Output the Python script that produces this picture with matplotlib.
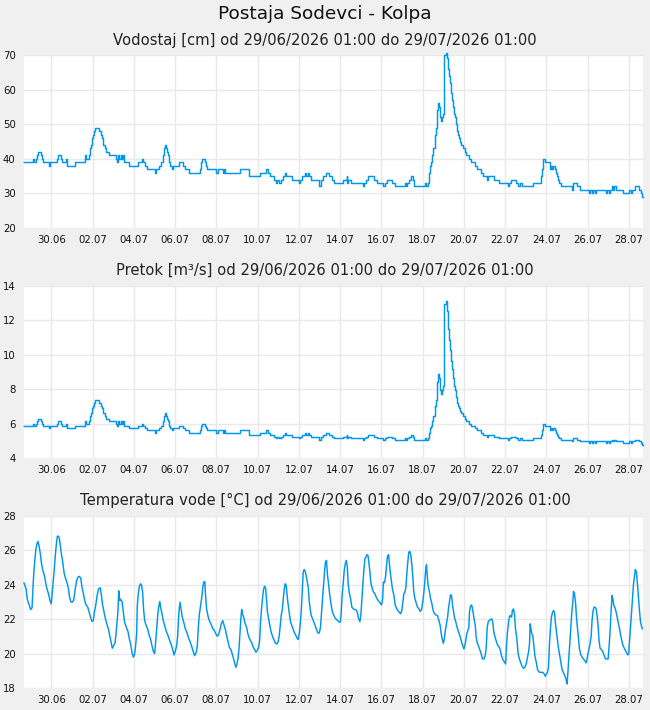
import matplotlib
matplotlib.use("Agg")
import matplotlib.pyplot as plt

# ---------------- data ----------------
station = "Postaja Sodevci - Kolpa"
period = "od 29/06/2026 01:00 do 29/07/2026 01:00"
titles = ["Vodostaj [cm]", "Pretok [m³/s]", "Temperatura vode [°C]"]

tick_pos = [1.32 + 2 * k for k in range(15)]
tick_labels = ["30.06", "02.07", "04.07", "06.07", "08.07", "10.07", "12.07", "14.07",
               "16.07", "18.07", "20.07", "22.07", "24.07", "26.07", "28.07"]

# water level / discharge (days from start of period)
lvl_day = [
    0.00, 0.42, 0.47, 0.58, 0.63, 0.68, 0.81, 0.87, 0.94, 1.20,
    1.26, 1.58, 1.65, 1.78, 1.84, 2.03, 2.06, 2.08, 2.46, 2.94,
    3.00, 3.13, 3.21, 3.26, 3.31, 3.36, 3.41, 3.46, 3.65, 3.72,
    3.78, 3.84, 3.91, 3.97, 4.14, 4.48, 4.52, 4.56, 4.62, 4.68,
    4.75, 4.80, 4.85, 5.07, 5.53, 5.72, 5.78, 5.85, 5.96, 6.37,
    6.41, 6.53, 6.66, 6.72, 6.79, 6.83, 6.88, 6.93, 6.98, 7.03,
    7.08, 7.17, 7.22, 7.50, 7.69, 7.82, 8.01, 8.52, 8.58, 8.64,
    8.76, 8.82, 8.89, 9.32, 9.39, 9.63, 9.68, 9.73, 10.48, 10.92,
    11.45, 11.74, 11.82, 11.94, 12.10, 12.21, 12.28, 12.34, 12.44, 12.54,
    12.63, 12.71, 12.99, 13.31, 13.38, 13.47, 13.60, 13.67, 13.76, 13.83,
    13.93, 14.31, 14.38, 14.47, 14.64, 14.77, 14.91, 15.02, 15.44, 15.64,
    15.67, 15.72, 15.83, 16.45, 16.49, 16.56, 16.65, 16.96, 17.09, 17.41,
    17.48, 17.58, 17.82, 17.98, 18.46, 18.51, 18.58, 18.67, 18.77, 18.84,
    18.90, 19.45, 19.50, 19.56, 19.61, 19.66, 19.72, 19.77, 19.84, 19.90,
    19.93, 19.97, 20.01, 20.06, 20.11, 20.14, 20.18, 20.22, 20.27, 20.30,
    20.34, 20.37, 20.43, 20.48, 20.53, 20.58, 20.63, 20.68, 20.74, 20.79,
    20.84, 20.89, 20.93, 20.98, 21.03, 21.08, 21.13, 21.18, 21.29, 21.35,
    21.42, 21.58, 21.68, 21.87, 21.97, 22.13, 22.26, 22.45, 22.48, 22.79,
    23.03, 23.45, 23.52, 23.58, 23.84, 23.95, 24.04, 24.12, 24.68, 25.07,
    25.12, 25.17, 25.26, 25.47, 25.54, 25.59, 25.65, 25.72, 25.76, 25.81,
    25.88, 25.94, 26.04, 26.55, 26.60, 26.81, 26.94, 27.39, 27.44, 27.52,
    27.57, 27.65, 27.70, 28.20, 28.25, 28.35, 28.40, 28.48, 28.54, 28.61,
    28.67, 29.03, 29.33, 29.40, 29.49, 29.61, 29.83, 29.91, 29.96, 30.00,
]
lvl_cm = [
    39, 40, 39, 40, 41, 42, 41, 40, 39, 38,
    39, 40, 41, 40, 39, 40, 39, 38, 39, 41,
    40, 41, 43, 44, 46, 47, 48, 49, 48, 47,
    46, 44, 43, 42, 41, 40, 39, 41, 40, 41,
    40, 41, 39, 38, 39, 40, 39, 38, 37, 36,
    37, 38, 39, 41, 43, 44, 43, 42, 41, 39,
    38, 37, 38, 39, 38, 37, 36, 37, 39, 40,
    39, 38, 37, 36, 37, 36, 37, 36, 37, 35,
    36, 37, 36, 35, 34, 33, 34, 33, 34, 35,
    36, 35, 34, 33, 34, 35, 36, 35, 36, 35,
    34, 32, 34, 35, 36, 35, 34, 33, 34, 35,
    33, 34, 33, 32, 33, 34, 35, 34, 33, 32,
    33, 34, 33, 32, 33, 32, 33, 34, 35, 34,
    32, 33, 32, 33, 36, 38, 39, 41, 43, 45,
    47, 49, 54, 56, 55, 54, 52, 51, 52, 53,
    56, 70, 70.5, 69, 66, 64, 62, 59, 57, 55,
    53, 52, 50, 48, 47, 46, 45, 44, 43, 42,
    41, 40, 39, 38, 37, 36, 35, 34, 35, 34,
    33, 32, 33, 34, 33, 32, 33, 32, 33, 35,
    37, 40, 39, 37, 38, 37, 38, 37, 36, 35,
    34, 33, 32, 31, 33, 32, 31, 30, 31, 30,
    31, 30, 31, 30, 31, 30, 31, 32, 31, 32,
    31, 30, 31, 30, 31, 32, 31, 30, 29, 29,
]
flow_m3s = [
    5.85, 6.00, 5.85, 6.00, 6.14, 6.29, 6.14, 6.00, 5.85, 5.72,
    5.85, 6.00, 6.14, 6.00, 5.85, 6.00, 5.85, 5.72, 5.85, 6.14,
    6.00, 6.14, 6.45, 6.60, 6.90, 7.05, 7.20, 7.40, 7.20, 7.05,
    6.90, 6.60, 6.45, 6.29, 6.14, 6.00, 5.85, 6.14, 6.00, 6.14,
    6.00, 6.14, 5.85, 5.72, 5.85, 6.00, 5.85, 5.72, 5.60, 5.47,
    5.60, 5.72, 5.85, 6.14, 6.45, 6.60, 6.45, 6.29, 6.14, 5.85,
    5.72, 5.60, 5.72, 5.85, 5.72, 5.60, 5.47, 5.60, 5.85, 6.00,
    5.85, 5.72, 5.60, 5.47, 5.60, 5.47, 5.60, 5.47, 5.60, 5.35,
    5.47, 5.60, 5.47, 5.35, 5.25, 5.15, 5.25, 5.15, 5.25, 5.35,
    5.47, 5.35, 5.25, 5.15, 5.25, 5.35, 5.47, 5.35, 5.47, 5.35,
    5.25, 5.07, 5.25, 5.35, 5.47, 5.35, 5.25, 5.15, 5.25, 5.35,
    5.15, 5.25, 5.15, 5.07, 5.15, 5.25, 5.35, 5.25, 5.15, 5.07,
    5.15, 5.25, 5.15, 5.07, 5.15, 5.07, 5.15, 5.25, 5.35, 5.25,
    5.07, 5.15, 5.07, 5.15, 5.47, 5.72, 5.85, 6.14, 6.45, 6.75,
    7.05, 7.40, 8.40, 8.90, 8.65, 8.40, 7.95, 7.75, 7.95, 8.20,
    8.90, 12.95, 13.15, 12.55, 11.50, 10.85, 10.30, 9.65, 9.15, 8.65,
    8.20, 7.95, 7.55, 7.20, 7.05, 6.90, 6.75, 6.60, 6.45, 6.29,
    6.14, 6.00, 5.85, 5.72, 5.60, 5.47, 5.35, 5.25, 5.35, 5.25,
    5.15, 5.07, 5.15, 5.25, 5.15, 5.07, 5.15, 5.07, 5.15, 5.35,
    5.60, 6.00, 5.85, 5.60, 5.72, 5.60, 5.72, 5.60, 5.47, 5.35,
    5.25, 5.15, 5.07, 4.98, 5.15, 5.07, 4.98, 4.90, 4.98, 4.90,
    4.98, 4.90, 4.98, 4.90, 4.98, 4.90, 4.98, 5.07, 4.98, 5.07,
    4.98, 4.90, 4.98, 4.90, 4.98, 5.07, 4.98, 4.90, 4.78, 4.78,
]

# water temperature
temp_day = [
    0.00, 0.10, 0.16, 0.26, 0.32, 0.39, 0.44, 0.48, 0.53, 0.58, 0.63, 0.68, 0.74, 0.79, 0.84, 0.90,
    0.99, 1.08, 1.20, 1.26, 1.32, 1.37, 1.42, 1.47, 1.52, 1.57, 1.62, 1.66, 1.71, 1.76, 1.81, 1.86,
    1.91, 1.95, 2.02, 2.10, 2.16, 2.21, 2.28, 2.34, 2.41, 2.49, 2.55, 2.62, 2.68, 2.75, 2.81, 2.88,
    2.94, 3.00, 3.09, 3.15, 3.21, 3.30, 3.36, 3.41, 3.47, 3.55, 3.62, 3.70, 3.75, 3.81, 3.88, 3.94,
    4.01, 4.09, 4.15, 4.22, 4.28, 4.35, 4.41, 4.46, 4.51, 4.56, 4.59, 4.64, 4.68, 4.75, 4.81, 4.88,
    4.96, 5.04, 5.10, 5.17, 5.23, 5.30, 5.36, 5.41, 5.46, 5.49, 5.54, 5.59, 5.65, 5.70, 5.75, 5.80,
    5.85, 5.91, 5.99, 6.07, 6.14, 6.20, 6.27, 6.33, 6.38, 6.43, 6.48, 6.53, 6.58, 6.62, 6.69, 6.75,
    6.82, 6.90, 6.98, 7.06, 7.14, 7.21, 7.27, 7.33, 7.40, 7.45, 7.48, 7.51, 7.56, 7.61, 7.67, 7.74,
    7.82, 7.90, 7.98, 8.06, 8.14, 8.21, 8.27, 8.35, 8.40, 8.45, 8.50, 8.56, 8.61, 8.66, 8.71, 8.76,
    8.80, 8.85, 8.92, 8.98, 9.06, 9.14, 9.22, 9.30, 9.37, 9.43, 9.50, 9.56, 9.63, 9.69, 9.76, 9.82,
    9.89, 9.95, 10.03, 10.09, 10.16, 10.22, 10.27, 10.32, 10.37, 10.42, 10.46, 10.51, 10.55, 10.59, 10.66, 10.72,
    10.79, 10.85, 10.92, 10.98, 11.05, 11.11, 11.18, 11.24, 11.30, 11.37, 11.42, 11.47, 11.51, 11.56, 11.61, 11.66,
    11.71, 11.76, 11.80, 11.87, 11.93, 11.99, 12.06, 12.13, 12.19, 12.26, 12.32, 12.37, 12.42, 12.47, 12.52, 12.56,
    12.61, 12.66, 12.71, 12.76, 12.81, 12.85, 12.92, 12.98, 13.05, 13.11, 13.18, 13.24, 13.29, 13.34, 13.39, 13.44,
    13.48, 13.53, 13.58, 13.63, 13.68, 13.73, 13.78, 13.82, 13.87, 13.92, 13.99, 14.05, 14.11, 14.18, 14.24, 14.31,
    14.37, 14.42, 14.47, 14.52, 14.57, 14.61, 14.66, 14.71, 14.76, 14.82, 14.89, 14.95, 15.02, 15.08, 15.15, 15.21,
    15.28, 15.33, 15.37, 15.42, 15.47, 15.52, 15.57, 15.62, 15.67, 15.71, 15.76, 15.83, 15.89, 15.96, 16.02, 16.08,
    16.15, 16.21, 16.28, 16.33, 16.37, 16.42, 16.47, 16.52, 16.57, 16.62, 16.67, 16.71, 16.76, 16.81, 16.88, 16.94,
    17.01, 17.07, 17.13, 17.20, 17.26, 17.33, 17.38, 17.42, 17.47, 17.52, 17.57, 17.62, 17.67, 17.72, 17.76, 17.81,
    17.86, 17.93, 17.99, 18.05, 18.12, 18.18, 18.25, 18.31, 18.36, 18.41, 18.46, 18.51, 18.56, 18.60, 18.65, 18.70,
    18.75, 18.80, 18.85, 18.89, 18.94, 19.01, 19.07, 19.14, 19.20, 19.27, 19.33, 19.38, 19.43, 19.48, 19.51, 19.54,
    19.59, 19.64, 19.70, 19.77, 19.83, 19.90, 19.96, 20.04, 20.11, 20.17, 20.22, 20.27, 20.32, 20.36, 20.41, 20.46,
    20.53, 20.57, 20.62, 20.67, 20.72, 20.77, 20.82, 20.86, 20.93, 20.99, 21.06, 21.12, 21.19, 21.25, 21.32, 21.36,
    21.41, 21.46, 21.51, 21.56, 21.59, 21.64, 21.69, 21.74, 21.80, 21.87, 21.91, 21.96, 22.03, 22.09, 22.16, 22.22,
    22.29, 22.35, 22.40, 22.45, 22.50, 22.54, 22.61, 22.67, 22.72, 22.77, 22.82, 22.88, 22.95, 23.01, 23.08, 23.14,
    23.21, 23.27, 23.34, 23.38, 23.43, 23.48, 23.53, 23.58, 23.63, 23.67, 23.72, 23.77, 23.82, 23.88, 23.95, 24.01,
    24.08, 24.14, 24.21, 24.27, 24.34, 24.40, 24.45, 24.50, 24.53, 24.56, 24.61, 24.66, 24.71, 24.76, 24.82, 24.89,
    24.95, 25.01, 25.08, 25.14, 25.21, 25.27, 25.32, 25.37, 25.42, 25.47, 25.52, 25.56, 25.61, 25.66, 25.71, 25.76,
    25.82, 25.89, 25.95, 26.02, 26.08, 26.15, 26.21, 26.27, 26.32, 26.36, 26.40, 26.45, 26.50, 26.55, 26.60, 26.63,
    26.68, 26.73, 26.77, 26.82, 26.87, 26.92, 26.99, 27.05, 27.11, 27.18, 27.24, 27.29, 27.34, 27.39, 27.44, 27.49,
    27.53, 27.58, 27.63, 27.68, 27.73, 27.78, 27.83, 27.87, 27.92, 27.99, 28.05, 28.12, 28.18, 28.24, 28.31, 28.36,
    28.41, 28.45, 28.50, 28.54, 28.58, 28.63, 28.68, 28.73, 28.78, 28.83, 28.87, 28.92, 28.97, 29.02, 29.07, 29.12,
    29.17, 29.21, 29.26, 29.31, 29.34, 29.39, 29.44, 29.49, 29.54, 29.59, 29.63, 29.68, 29.73, 29.78, 29.83, 29.88,
    29.92, 29.97,
]
temp_c = [
    24.10, 23.77, 23.15, 22.80, 22.56, 22.66, 23.96, 24.78, 25.51, 26.10, 26.39, 26.52, 26.19, 25.81, 25.32, 24.89,
    24.54, 23.92, 23.42, 23.09, 22.89, 23.57, 24.19, 24.93, 25.75, 26.39, 26.83, 26.83, 26.72, 26.29, 25.81, 25.46,
    25.03, 24.64, 24.35, 24.06, 23.73, 23.26, 22.99, 22.99, 23.11, 23.81, 24.25, 24.45, 24.49, 24.39, 23.86, 23.48,
    23.09, 22.85, 22.70, 22.45, 22.17, 21.86, 21.92, 22.41, 22.76, 23.42, 23.77, 23.83, 23.38, 22.83, 22.41, 22.06,
    21.73, 21.44, 21.09, 20.66, 20.31, 20.47, 20.62, 21.15, 21.83, 22.60, 23.65, 23.09, 23.15, 23.03, 22.45, 21.79,
    21.53, 21.28, 20.89, 20.56, 20.08, 19.79, 19.96, 20.47, 21.15, 22.80, 23.48, 23.92, 24.06, 23.96, 23.57, 22.50,
    21.92, 21.67, 21.44, 21.05, 20.82, 20.47, 20.12, 20.00, 20.66, 21.44, 22.21, 22.74, 23.03, 22.70, 22.31, 21.92,
    21.63, 21.28, 21.05, 20.76, 20.50, 20.23, 19.92, 20.12, 20.47, 21.05, 21.83, 22.41, 22.99, 22.60, 22.12, 21.83,
    21.44, 21.20, 20.89, 20.66, 20.37, 20.08, 19.88, 20.08, 20.47, 21.53, 22.31, 22.80, 23.22, 23.77, 24.16, 24.19,
    23.38, 22.60, 22.17, 21.92, 21.73, 21.48, 21.34, 21.15, 21.01, 21.09, 21.40, 21.73, 21.92, 21.67, 21.40, 21.05,
    20.70, 20.37, 20.23, 19.98, 19.69, 19.40, 19.20, 19.40, 19.69, 20.27, 21.09, 22.02, 22.56, 22.31, 22.06, 21.73,
    21.53, 21.15, 20.89, 20.76, 20.60, 20.37, 20.23, 20.08, 20.17, 20.37, 20.76, 21.92, 22.56, 23.22, 23.73, 23.92,
    23.81, 23.03, 22.41, 21.92, 21.53, 21.20, 20.95, 20.76, 20.60, 20.56, 20.70, 21.05, 21.63, 22.25, 22.60, 23.09,
    23.73, 24.06, 23.96, 23.28, 22.80, 22.41, 21.83, 21.63, 21.40, 21.20, 21.05, 20.89, 20.82, 21.15, 21.73, 22.50,
    23.48, 24.74, 24.89, 24.78, 24.50, 24.16, 23.81, 23.09, 22.60, 22.21, 22.02, 21.83, 21.63, 21.40, 21.20, 21.20,
    21.53, 22.41, 23.22, 24.06, 24.83, 25.32, 25.42, 24.54, 24.06, 23.38, 22.80, 22.41, 22.21, 22.06, 21.98, 21.92,
    21.83, 21.83, 22.31, 23.38, 24.06, 24.83, 25.22, 25.42, 25.03, 24.06, 23.57, 23.18, 22.70, 22.60, 22.56, 22.56,
    22.41, 22.06, 21.86, 22.31, 23.09, 23.96, 24.83, 25.51, 25.61, 25.75, 25.71, 25.32, 24.83, 24.12, 23.77, 23.57,
    23.48, 23.28, 23.15, 23.03, 22.95, 22.83, 23.15, 24.16, 24.12, 24.45, 25.13, 25.67, 25.75, 25.09, 24.64, 24.16,
    23.73, 23.38, 22.83, 22.64, 22.50, 22.41, 22.31, 22.50, 22.99, 23.48, 23.57, 23.86, 24.74, 25.32, 25.90, 25.94,
    25.71, 25.13, 24.35, 23.61, 23.22, 22.95, 22.70, 22.60, 22.45, 22.56, 23.03, 23.57, 24.25, 25.03, 25.17, 24.54,
    23.92, 23.67, 23.22, 22.89, 22.50, 22.31, 22.25, 22.21, 21.92, 21.63, 21.15, 20.85, 20.60, 20.76, 21.24, 21.63,
    22.12, 22.60, 22.99, 23.42, 23.38, 22.83, 22.45, 22.12, 21.83, 21.53, 21.28, 21.05, 20.76, 20.50, 20.27, 20.43,
    20.76, 21.15, 21.34, 21.53, 22.41, 22.76, 22.83, 22.60, 22.12, 21.63, 21.01, 20.66, 20.43, 20.23, 19.98, 19.69,
    19.69, 19.88, 20.31, 21.53, 21.86, 21.92, 21.98, 22.02, 21.83, 21.24, 21.01, 20.76, 20.50, 20.43, 20.23, 19.88,
    19.65, 19.53, 19.40, 20.37, 21.24, 21.79, 22.17, 22.21, 22.12, 22.50, 22.60, 22.31, 21.44, 20.95, 19.98, 19.69,
    19.46, 19.26, 19.15, 19.20, 19.40, 19.79, 20.08, 20.56, 21.73, 21.53, 21.15, 21.05, 20.47, 19.88, 19.53, 19.07,
    18.95, 18.91, 18.91, 18.91, 18.82, 18.68, 18.82, 18.91, 19.20, 20.66, 21.53, 22.12, 22.37, 22.50, 22.41, 21.73,
    21.15, 20.43, 19.98, 19.50, 19.07, 18.87, 18.72, 18.52, 18.23, 18.91, 19.69, 20.56, 21.53, 22.41, 22.99, 23.61,
    23.48, 22.99, 22.21, 21.53, 20.95, 20.27, 19.92, 19.79, 19.69, 19.59, 19.46, 19.69, 20.04, 20.31, 20.62, 21.05,
    21.92, 22.50, 22.70, 22.70, 22.60, 22.17, 21.53, 20.76, 20.31, 20.23, 20.12, 19.88, 19.69, 19.69, 19.69, 20.47,
    21.40, 22.41, 23.38, 23.18, 22.83, 22.70, 22.50, 22.25, 21.92, 21.63, 21.40, 21.05, 20.76, 20.50, 20.37, 20.23,
    20.12, 20.04, 19.92, 19.98, 20.66, 21.44, 22.31, 23.22, 24.06, 24.54, 24.89, 24.74, 24.06, 23.28, 22.50, 21.83,
    21.63, 21.44,
]

y_limits = [(20, 70), (4, 14), (18, 28)]
y_ticks = [[20, 30, 40, 50, 60, 70], [4, 6, 8, 10, 12, 14], [18, 20, 22, 24, 26, 28]]

# ---------------- figure ----------------
W, H = 650, 710
fig = plt.figure(figsize=(W / 100, H / 100), dpi=100, facecolor="#f0f0f0")
plt.rcParams["font.family"] = ["DejaVu Sans"]

line_color = "#0096f0"
grid_color = "#e9e9e9"

panels = [  # (top_px, bottom_px, title_y_px)
    (55, 228, 40),
    (286, 458, 270),
    (516, 688, 500),
]
left_px, right_px = 24, 643

fig.text(0.5, 1 - 14 / H, station, ha="center", va="center", fontsize=13.3, color="#111111")

series = [(lvl_day, lvl_cm, "steps-post"), (lvl_day, flow_m3s, "steps-post"), (temp_day, temp_c, "default")]

for i, (top, bot, ty) in enumerate(panels):
    ax = fig.add_axes([left_px / W, 1 - bot / H, (right_px - left_px) / W, (bot - top) / H])
    ax.set_facecolor("white")
    for s in ax.spines.values():
        s.set_visible(False)
    x, y, ds = series[i]
    ax.plot(x, y, color=line_color, lw=1.05, drawstyle=ds, clip_on=False, zorder=3)
    ax.set_xlim(0, 30)
    ax.set_ylim(*y_limits[i])
    ax.set_yticks(y_ticks[i])
    ax.set_xticks(tick_pos)
    ax.set_xticklabels(tick_labels)
    ax.grid(True, color=grid_color, lw=1.0, zorder=0)
    ax.set_axisbelow(True)
    ax.tick_params(axis="both", length=0, labelsize=7.3, colors="#111111")
    ax.tick_params(axis="y", pad=6)
    ax.tick_params(axis="x", pad=5)
    fig.text(0.5, 1 - ty / H, f"{titles[i]} {period}", ha="center", va="center",
             fontsize=10.6, color="#222222")

fig.savefig("out.png", dpi=100, facecolor=fig.get_facecolor())
